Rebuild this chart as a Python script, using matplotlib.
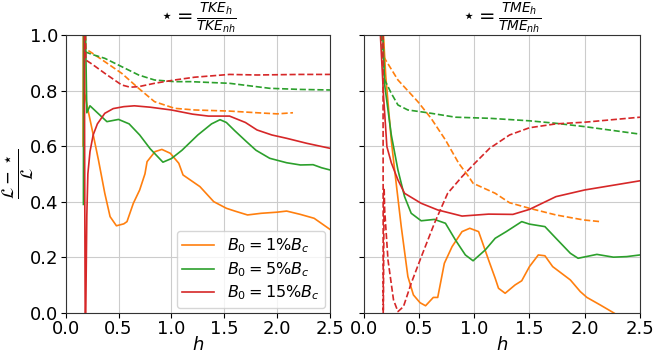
import matplotlib.pyplot as plt

# ---- data ----
# left panel: TKE ratio
tke_1_h = [0.165, 0.167, 0.175, 0.18, 0.2, 0.25, 0.31, 0.37, 0.42, 0.48, 0.55, 0.58, 0.64, 0.70, 0.75,
           0.77, 0.845, 0.91, 0.99, 1.07, 1.11, 1.27, 1.4, 1.52, 1.6, 1.72, 1.85, 2.0, 2.09, 2.22, 2.35, 2.5]
tke_1 = [0.60, 1.20, 1.20, 0.79, 0.75, 0.66, 0.55, 0.43, 0.346, 0.313, 0.32, 0.328, 0.394, 0.442, 0.50,
         0.544, 0.58, 0.588, 0.574, 0.538, 0.496, 0.454, 0.40, 0.376, 0.366, 0.352, 0.358, 0.362, 0.366,
         0.354, 0.34, 0.30]
tke_5_h = [0.168, 0.170, 0.18, 0.2, 0.23, 0.3, 0.39, 0.5, 0.6, 0.7, 0.8, 0.92, 1.0, 1.1, 1.25, 1.38,
           1.46, 1.52, 1.6, 1.71, 1.8, 1.93, 2.09, 2.22, 2.34, 2.42, 2.5]
tke_5 = [0.39, 1.20, 1.20, 0.72, 0.745, 0.72, 0.688, 0.696, 0.68, 0.64, 0.59, 0.542, 0.555, 0.585, 0.64,
         0.68, 0.695, 0.685, 0.655, 0.616, 0.585, 0.556, 0.54, 0.532, 0.533, 0.522, 0.514]
tke_15_h = [0.175, 0.18, 0.185, 0.19, 0.2, 0.21, 0.23, 0.26, 0.3, 0.37, 0.45, 0.55, 0.65, 0.8, 1.0,
            1.2, 1.35, 1.55, 1.7, 1.81, 1.95, 2.09, 2.28, 2.5]
tke_15 = [1.20, 0.50, -0.05, 0.0, 0.35, 0.50, 0.58, 0.64, 0.68, 0.718, 0.735, 0.742, 0.745, 0.74, 0.73,
          0.715, 0.708, 0.708, 0.685, 0.658, 0.64, 0.628, 0.61, 0.592]

tke_1_d_h = [0.175, 0.19, 0.25, 0.37, 0.53, 0.69, 0.84, 1.03, 1.22, 1.55, 1.81, 2.0, 2.15]
tke_1_d = [1.20, 0.95, 0.935, 0.904, 0.862, 0.808, 0.76, 0.736, 0.73, 0.726, 0.72, 0.716, 0.72]
tke_5_d_h = [0.175, 0.18, 0.25, 0.37, 0.53, 0.69, 0.84, 1.03, 1.18, 1.55, 1.93, 2.22, 2.5]
tke_5_d = [1.20, 0.94, 0.93, 0.916, 0.886, 0.856, 0.838, 0.832, 0.832, 0.826, 0.808, 0.804, 0.802]
tke_15_d_h = [0.178, 0.19, 0.25, 0.37, 0.53, 0.61, 0.69, 0.84, 1.03, 1.22, 1.55, 1.81, 2.22, 2.5]
tke_15_d = [1.20, 0.91, 0.895, 0.862, 0.82, 0.812, 0.814, 0.826, 0.838, 0.848, 0.858, 0.856, 0.858, 0.858]

# right panel: TME ratio
tme_1_h = [0.165, 0.2, 0.25, 0.28, 0.34, 0.40, 0.45, 0.51, 0.56, 0.63, 0.67, 0.73, 0.80, 0.89, 0.96,
           1.04, 1.13, 1.19, 1.22, 1.28, 1.37, 1.43, 1.50, 1.58, 1.64, 1.71, 1.87, 1.96, 2.02, 2.14, 2.26, 2.3]
tme_1 = [1.10, 0.85, 0.62, 0.514, 0.31, 0.13, 0.064, 0.036, 0.025, 0.055, 0.055, 0.178, 0.238, 0.292,
         0.304, 0.292, 0.19, 0.124, 0.088, 0.07, 0.10, 0.115, 0.166, 0.208, 0.205, 0.166, 0.118, 0.076,
         0.055, 0.028, 0.0, -0.01]
tme_5_h = [0.165, 0.19, 0.25, 0.31, 0.37, 0.43, 0.52, 0.64, 0.74, 0.83, 0.92, 0.99, 1.10, 1.19, 1.29,
           1.43, 1.50, 1.64, 1.74, 1.87, 1.94, 2.11, 2.26, 2.38, 2.5]
tme_5 = [1.10, 0.82, 0.64, 0.514, 0.418, 0.358, 0.331, 0.336, 0.322, 0.262, 0.208, 0.187, 0.226, 0.268,
         0.292, 0.328, 0.319, 0.31, 0.268, 0.214, 0.196, 0.21, 0.20, 0.202, 0.208]
tme_15_h = [0.145, 0.18, 0.21, 0.25, 0.31, 0.37, 0.52, 0.67, 0.89, 1.13, 1.35, 1.50, 1.74, 2.0, 2.5]
tme_15 = [1.05, 0.778, 0.598, 0.54, 0.478, 0.43, 0.394, 0.37, 0.348, 0.355, 0.354, 0.372, 0.418, 0.442,
          0.475]

tme_1_d_h = [0.175, 0.18, 0.31, 0.49, 0.61, 0.74, 0.86, 0.95, 0.99, 1.19, 1.32, 1.50, 1.74, 1.99, 2.14]
tme_1_d = [1.05, 0.922, 0.838, 0.76, 0.70, 0.622, 0.538, 0.49, 0.466, 0.43, 0.396, 0.376, 0.352, 0.334,
           0.328]
tme_5_d_h = [0.16, 0.19, 0.25, 0.31, 0.40, 0.58, 0.83, 1.14, 1.50, 1.74, 2.0, 2.5]
tme_5_d = [1.00, 0.838, 0.79, 0.748, 0.73, 0.72, 0.704, 0.70, 0.691, 0.682, 0.67, 0.643]
tme_15_d_h = [0.175, 0.177, 0.185, 0.19, 0.22, 0.27, 0.31, 0.36, 0.43, 0.52, 0.64, 0.76, 0.89, 1.01,
              1.14, 1.32, 1.50, 1.74, 2.0, 2.5]
tme_15_d = [1.10, -0.05, 0.45, 0.37, 0.19, 0.046, 0.004, 0.022, 0.106, 0.20, 0.322, 0.43, 0.49, 0.54,
            0.592, 0.64, 0.666, 0.68, 0.686, 0.704]

labels = [r'$B_0 = 1\%B_c$', r'$B_0 = 5\%B_c$', r'$B_0 = 15\%B_c$']
colors = ['tab:orange', 'tab:green', 'tab:red']

plt.rcParams['font.size'] = 13

fig = plt.figure(figsize=(6.58, 3.56), dpi=100)
ax1 = fig.add_axes([0.0998, 0.1216, 0.4017, 0.7801])
ax2 = fig.add_axes([0.5527, 0.1216, 0.4199, 0.7801])

lw = 1.2
left = [(tke_1_h, tke_1, tke_1_d_h, tke_1_d),
        (tke_5_h, tke_5, tke_5_d_h, tke_5_d),
        (tke_15_h, tke_15, tke_15_d_h, tke_15_d)]
right = [(tme_1_h, tme_1, tme_1_d_h, tme_1_d),
         (tme_5_h, tme_5, tme_5_d_h, tme_5_d),
         (tme_15_h, tme_15, tme_15_d_h, tme_15_d)]

for ax, sets in [(ax1, left), (ax2, right)]:
    for (hs, ys, hd, yd), c, lab in zip(sets, colors, labels):
        ax.plot(hs, ys, color=c, lw=lw, label=lab)
        ax.plot(hd, yd, color=c, lw=lw, ls='--')
    ax.set_xlim(0, 2.5)
    ax.set_ylim(0, 1.0)
    ax.set_xticks([0.0, 0.5, 1.0, 1.5, 2.0, 2.5])
    ax.set_yticks([0.0, 0.2, 0.4, 0.6, 0.8, 1.0])
    ax.tick_params(labelsize=13, pad=2)
    ax.grid(True, color='#cccccc', lw=0.8)
    ax.set_xlabel(r'$h$', fontsize=13, labelpad=-2)
    for s in ax.spines.values():
        s.set_color('#333333')

ax2.set_yticklabels([])
ax1.set_ylabel(r'$\frac{\mathcal{L} - \star}{\mathcal{L}}$', fontsize=17)
ax1.yaxis.set_label_coords(-0.11, 0.5)
ax1.set_title(r'$\star = \frac{TKE_h}{TKE_{nh}}$', fontsize=14)
ax2.set_title(r'$\star = \frac{TME_h}{TME_{nh}}$', fontsize=14)
ax1.legend(loc='lower right', fontsize=11.5, labelspacing=0.3, borderpad=0.35,
           handlelength=2.0, borderaxespad=0.3)

fig.savefig('out.png', dpi=100)
